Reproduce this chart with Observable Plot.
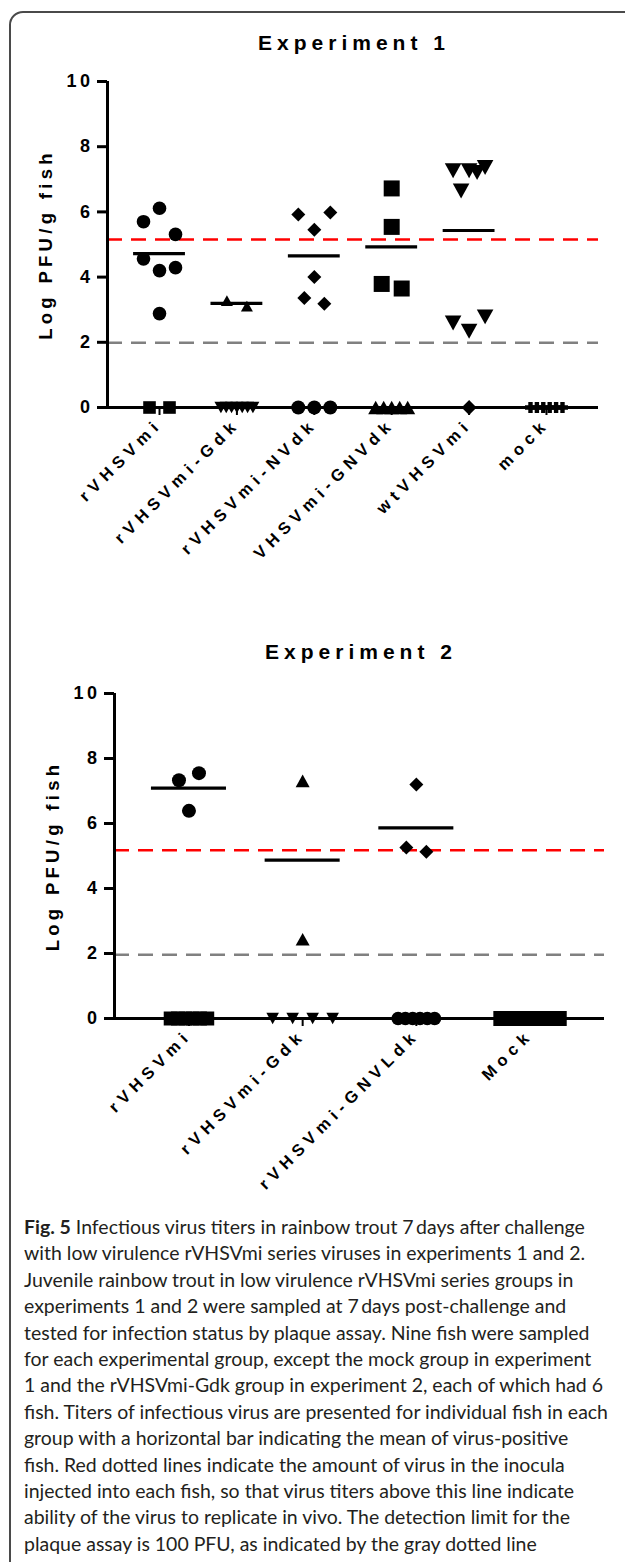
<!DOCTYPE html>
<html><head><meta charset="utf-8">
<script src="https://cdn.jsdelivr.net/npm/d3@7"></script>
<script src="https://cdn.jsdelivr.net/npm/@observablehq/plot@0.6"></script>
<style>
body{margin:0;background:#fff;width:625px;height:1562px;overflow:hidden;position:relative;font-family:"Liberation Sans",Arial,sans-serif;}
#frame{position:absolute;left:9px;top:11px;width:800px;height:1700px;border:2px solid #4a4a4a;border-top-left-radius:14px;box-sizing:border-box;}
.title{position:absolute;font-family:"Liberation Sans",Arial,sans-serif;font-weight:bold;font-size:21px;letter-spacing:5px;white-space:nowrap;transform:translate(-50%,-50%);color:#000;}
.chart{position:absolute;left:0;}
#caption{position:absolute;left:24px;top:1214px;line-height:26.4px;font-family:Lato,"Open Sans",sans-serif;color:#231f20;white-space:nowrap;}
#caption b{font-weight:bold;}
</style></head><body>
<div id="frame"></div>
<div class="title" id="t1" style="left:354px;top:43px">Experiment 1</div>
<div class="chart" id="c1" style="top:60px"></div>
<div class="title" id="t2" style="left:361px;top:652px">Experiment 2</div>
<div class="chart" id="c2" style="top:670px"></div>
<div id="caption"></div>
<script>
// ---------- DATA ----------
const yTicks = [0, 2, 4, 6, 8, 10];
const yLabel = "Log PFU/g fish";

// Experiment 1 (log PFU/g fish of each fish)
const exp1Groups = ["rVHSVmi", "rVHSVmi-Gdk", "rVHSVmi-NVdk", "VHSVmi-GNVdk", "wtVHSVmi", "mock"];
const exp1_rVHSVmi = [5.70, 6.11, 5.31, 4.56, 4.20, 4.29, 2.88, 0, 0];
const exp1_Gdk     = [3.28, 3.11, 0, 0, 0, 0, 0, 0, 0];
const exp1_NVdk    = [5.92, 5.45, 5.98, 4.00, 3.36, 3.18, 0, 0, 0];
const exp1_GNVdk   = [6.72, 5.54, 3.79, 3.65, 0, 0, 0, 0, 0];
const exp1_wt      = [7.26, 6.64, 7.26, 7.21, 7.36, 2.59, 2.34, 2.78, 0];
const exp1_mock    = [0, 0, 0, 0, 0, 0];
const exp1Inoculum = 5.15;   // red dashed line
const exp1Detection = 1.99;  // gray dashed line

// Experiment 2
const exp2Groups = ["rVHSVmi", "rVHSVmi-Gdk", "rVHSVmi-GNVLdk", "Mock"];
const exp2_rVHSVmi = [7.33, 7.55, 6.39, 0, 0, 0, 0, 0, 0];
const exp2_Gdk     = [7.31, 2.44, 0, 0, 0, 0];
const exp2_GNVLdk  = [7.20, 5.26, 5.13, 0, 0, 0, 0, 0, 0];
const exp2_Mock    = [0, 0, 0, 0, 0, 0, 0, 0, 0];
const exp2Inoculum = 5.18;
const exp2Detection = 1.96;

const captionLines = [
  "<b>Fig. 5</b> Infectious virus titers in rainbow trout 7\u2009days after challenge",
  "with low virulence rVHSVmi series viruses in experiments 1 and 2.",
  "Juvenile rainbow trout in low virulence rVHSVmi series groups in",
  "experiments 1 and 2 were sampled at 7\u2009days post-challenge and",
  "tested for infection status by plaque assay. Nine fish were sampled",
  "for each experimental group, except the mock group in experiment",
  "1 and the rVHSVmi-Gdk group in experiment 2, each of which had 6",
  "fish. Titers of infectious virus are presented for individual fish in each",
  "group with a horizontal bar indicating the mean of virus-positive",
  "fish. Red dotted lines indicate the amount of virus in the inocula",
  "injected into each fish, so that virus titers above this line indicate",
  "ability of the virus to replicate in vivo. The detection limit for the",
  "plaque assay is 100 PFU, as indicated by the gray dotted line"
];

// ---------- SYMBOLS (style) ----------
function rr(s){return Math.sqrt(s/Math.PI);}
const SYM = {
  circle: "circle",
  square: {draw(c,s){const r=rr(s);c.moveTo(-r,-r);c.lineTo(r,-r);c.lineTo(r,r);c.lineTo(-r,r);c.closePath();}},
  triUp: {draw(c,s){const r=rr(s),h=0.9*r;c.moveTo(0,-h);c.lineTo(r,h);c.lineTo(-r,h);c.closePath();}},
  triDown: {draw(c,s){const r=rr(s),h=0.9*r;c.moveTo(-r,-h);c.lineTo(r,-h);c.lineTo(0,h);c.closePath();}},
  diamond: {draw(c,s){const r=rr(s);c.moveTo(0,-r);c.lineTo(r,0);c.lineTo(0,r);c.lineTo(-r,0);c.closePath();}},
  plus: {draw(c,s){const r=rr(s),t=0.4*r;c.moveTo(-t,-r);c.lineTo(t,-r);c.lineTo(t,-t);c.lineTo(r,-t);c.lineTo(r,t);c.lineTo(t,t);c.lineTo(t,r);c.lineTo(-t,r);c.lineTo(-t,t);c.lineTo(-r,t);c.lineTo(-r,-t);c.lineTo(-t,-t);c.closePath();}}
};

function spreadOffsets(k, sp){
  if (k <= 1) return [0];
  let half = (k-1)*sp.full/2;
  if (half > sp.cap) half = Math.min(sp.cap, (k-1)*sp.compact/2);
  return d3.range(k).map(i => -half + 2*half*i/(k-1));
}

function styleTexts(svg, selector, size, spacing){
  svg.querySelectorAll(selector).forEach(t => {
    t.style.fontSize = size + "px";
    t.style.fontWeight = "bold";
    t.style.letterSpacing = spacing + "px";
  });
}

function makeChart(cfg){
  const {groups, series, red, gray, width, height, ml, mr, mt, mb, pad, spread, posSym, zeroSym, posR, zeroR, meanHalf, yLabelDx} = cfg;
  const n = groups.length;
  const pxPerUnit = (width-ml-mr)/(n-1+2*pad);
  const pts = [];
  series.forEach((vals, gi) => {
    const items = vals.map((v, idx) => ({v, idx}));
    const sorted = [...items].sort((a,b) => b.v - a.v || a.idx - b.idx);
    const rows = [];
    sorted.forEach(p => {
      const last = rows[rows.length-1];
      if (last && last[last.length-1].v - p.v < 0.6 && (p.v > 0) === (last[0].v > 0)) last.push(p); else rows.push([p]);
    });
    rows.forEach(row => {
      row.sort((a,b) => a.idx - b.idx);
      const offs = spreadOffsets(row.length, spread);
      row.forEach((p,k) => {
        const zero = p.v === 0;
        pts.push({x: gi + offs[k]/pxPerUnit, y: p.v, key: (zero ? zeroSym[gi] : posSym[gi]) + "|" + (zero ? zeroR[gi] : posR[gi])});
      });
    });
  });
  const means = series.map((vals, gi) => {
    const pos = vals.filter(v => v > 0);
    return pos.length ? {x1: gi - meanHalf, x2: gi + meanHalf, y: d3.mean(pos)} : null;
  }).filter(d => d);
  const dotMarks = d3.groups(pts, d => d.key).map(([key, arr]) => {
    const [s, r] = key.split("|");
    return Plot.dot(arr, {x: "x", y: "y", r: +r, symbol: SYM[s], fill: "black", stroke: "none"});
  });
  const svg = Plot.plot({
    width, height, marginLeft: ml, marginRight: mr, marginTop: mt, marginBottom: mb,
    style: {fontFamily: '"Liberation Sans", Arial, sans-serif', color: "black", background: "transparent", overflow: "visible"},
    x: {type: "linear", domain: [-pad, n-1+pad], axis: null},
    y: {domain: [0, 10], axis: null},
    marks: [
      Plot.ruleY([gray], {stroke: "#808080", strokeWidth: 2.5, strokeDasharray: "15,9"}),
      Plot.ruleY([red], {stroke: "#ff0000", strokeWidth: 2.5, strokeDasharray: "15,9"}),
      Plot.axisY({ticks: yTicks, tickSize: 10, tickPadding: 4, strokeWidth: 3, fontSize: 18, fontWeight: "bold", label: null}),
      Plot.axisX({ticks: d3.range(n), tickFormat: i => groups[i], tickSize: 8, strokeWidth: 2, tickRotate: -45, fontSize: 16.5, fontWeight: "bold", label: null, tickPadding: 6}),
      Plot.ruleX([-pad], {y1: 0, y2: 10, strokeWidth: 3}),
      Plot.ruleY([0], {strokeWidth: 3}),
      Plot.ruleY(means, {y: "y", x1: "x1", x2: "x2", strokeWidth: 3.2, stroke: "black"}),
      ...dotMarks,
      Plot.text([yLabel], {frameAnchor: "left", textAnchor: "middle", lineAnchor: "middle", rotate: -90, dx: yLabelDx, fontSize: 18.5, fontWeight: "bold"})
    ]
  });
  styleTexts(svg, 'g[aria-label="y-axis tick label"] text', 18, 3.5);
  styleTexts(svg, 'g[aria-label="x-axis tick label"] text', 16.5, 5.5);
  styleTexts(svg, 'g[aria-label="text"] text', 18.5, 4.3);
  return svg;
}

document.getElementById("c1").appendChild(makeChart({
  groups: exp1Groups,
  series: [exp1_rVHSVmi, exp1_Gdk, exp1_NVdk, exp1_GNVdk, exp1_wt, exp1_mock],
  red: exp1Inoculum, gray: exp1Detection,
  width: 625, height: 540, ml: 107, mr: 27, mt: 21, mb: 193, pad: 0.672,
  spread: {full: 20, cap: 16, compact: 16},
  posSym: ["circle", "triUp", "diamond", "square", "triDown", "plus"],
  zeroSym: ["square", "triDown", "circle", "triUp", "diamond", "plus"],
  posR: [6.8, 6, 7, 8, 8.3, 6],
  zeroR: [6.3, 6.5, 7, 7.5, 7.5, 5.5],
  meanHalf: 0.335, yLabelDx: -61
}));

document.getElementById("c2").appendChild(makeChart({
  groups: exp2Groups,
  series: [exp2_rVHSVmi, exp2_Gdk, exp2_GNVLdk, exp2_Mock],
  red: exp2Inoculum, gray: exp2Detection,
  width: 625, height: 560, ml: 114, mr: 21, mt: 23, mb: 212, pad: 0.655,
  spread: {full: 20, cap: 30, compact: 7.3},
  posSym: ["circle", "triUp", "diamond", "square"],
  zeroSym: ["square", "triDown", "circle", "square"],
  posR: [7, 7, 7, 7.5],
  zeroR: [7, 6.3, 6.7, 7.5],
  meanHalf: 0.33, yLabelDx: -61
}));

// caption
const cap = document.getElementById("caption");
const ctx = document.createElement("canvas").getContext("2d");
ctx.font = "100px Lato";
const wRef = ctx.measureText("fish. Titers of infectious virus are presented for individual fish in each").width;
cap.style.fontSize = (100*586/wRef).toFixed(2) + "px";
cap.innerHTML = captionLines.map(l => "<div>" + l + "</div>").join("");
</script>
</body></html>
